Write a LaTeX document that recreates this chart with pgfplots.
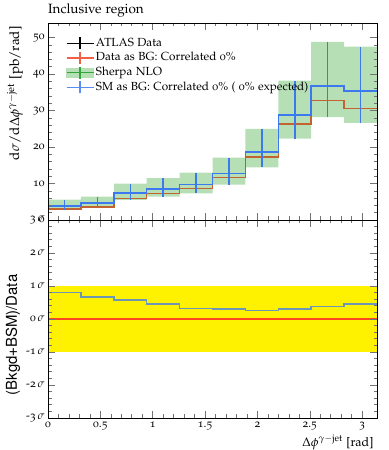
\documentclass[border=0pt]{standalone}
\usepackage[T1]{fontenc}
\usepackage[osf]{mathpazo}
\usepackage{helvet}
\usepackage{pgfplots}
\pgfplotsset{compat=1.18}
\definecolor{dred}{RGB}{240,95,70}
\definecolor{dbrown}{RGB}{195,100,48}
\definecolor{pred}{RGB}{255,70,30}
\definecolor{sblue}{RGB}{60,120,240}
\definecolor{bandgreen}{RGB}{182,223,182}
\definecolor{sgreen}{RGB}{50,165,60}
\pgfplotsset{
 rivet/.style={scale only axis, width=329bp, xmin=0, xmax=3.14159,
  axis on top, tick align=inside, tick pos=both,
  major tick length=7bp, minor tick length=3.5bp,
  tick style={black!55, line width=0.6bp},
  axis line style={line width=0.8bp},
  xtick={0,0.5,1,1.5,2,2.5,3}, minor x tick num=4,
  /pgf/number format/assume math mode=true,
  tick label style={font=\fontsize{11.5}{13}\selectfont}},
 ebar/.style={sblue, line width=1.5bp, mark=none, forget plot},
}
\begin{document}
\begin{tikzpicture}
\path[use as bounding box] (0,0) rectangle (389bp,450bp);
\node[anchor=base west, font=\fontsize{13.5}{15}\selectfont, inner sep=0pt] at (48bp,436bp) {Inclusive region};
\begin{axis}[rivet, at={(48bp,230bp)}, anchor=south west, height=197bp,
  ymin=0, ymax=54, ytick={0,10,20,30,40,50}, minor y tick num=4, xticklabels={},
  every axis y label/.style={at={(axis description cs:0,1)}, xshift=-33bp, yshift=0bp, rotate=90, anchor=east, font=\fontsize{13.5}{15}\selectfont},
  ylabel={$\mathrm{d}\sigma/\mathrm{d}\Delta\phi^{\gamma-\mathrm{jet}}$ [pb/rad]},
  legend style={at={(axis description cs:0.045,0.945)}, anchor=north west, draw=none, fill=none,
    font=\fontsize{11.8}{13}\selectfont, row sep=0bp,
    nodes={text height=8.5bp, text depth=3bp, inner sep=1.6bp}},
  legend cell align=left]
\addlegendimage{legend image code/.code={\draw[black,line width=1.4bp] (0bp,0bp)--(27bp,0bp); \draw[black,line width=1.4bp] (13.5bp,-6bp)--(13.5bp,6bp);}}
\addlegendentry{ATLAS Data}
\addlegendimage{legend image code/.code={\draw[dred,line width=1.4bp] (0bp,0bp)--(27bp,0bp); \draw[dred,line width=1.4bp] (13.5bp,-6bp)--(13.5bp,6bp);}}
\addlegendentry{Data as BG: Correlated 0\%}
\addlegendimage{legend image code/.code={\fill[bandgreen] (0bp,-4.5bp) rectangle (27bp,4.5bp); \draw[sgreen,line width=1.4bp] (0bp,0bp)--(27bp,0bp); \draw[sgreen,line width=1.4bp] (13.5bp,-6bp)--(13.5bp,6bp);}}
\addlegendentry{Sherpa NLO}
\addlegendimage{legend image code/.code={\draw[sblue!85!white,line width=1.4bp] (0bp,0bp)--(27bp,0bp); \draw[sblue!85!white,line width=1.4bp] (13.5bp,-6bp)--(13.5bp,6bp);}}
\addlegendentry{SM as BG: Correlated 0\% ( 0\% expected)}
% Sherpa band
\addplot[fill=bandgreen, draw=none, forget plot] coordinates {(0,5.6)(0.31416,5.6)(0.31416,6.4)(0.62832,6.4)(0.62832,10.0)(0.94248,10.0)(0.94248,11.5)(1.25664,11.5)(1.25664,13.0)(1.5708,13.0)(1.5708,17.1)(1.88496,17.1)(1.88496,25.0)(2.19911,25.0)(2.19911,38.2)(2.51327,38.2)(2.51327,48.8)(2.82743,48.8)(2.82743,47.5)(3.14159,47.5)
(3.14159,26.6)(2.82743,26.6)(2.82743,28.2)(2.51327,28.2)(2.51327,22.3)(2.19911,22.3)(2.19911,14.4)(1.88496,14.4)(1.88496,9.7)(1.5708,9.7)(1.5708,7.3)(1.25664,7.3)(1.25664,6.4)(0.94248,6.4)(0.94248,5.5)(0.62832,5.5)(0.62832,3.5)(0.31416,3.5)(0.31416,2.8)(0,2.8)};
% data
\addplot[black, const plot, line width=1.5bp, forget plot] coordinates {(0,3.0)(0.31416,3.6)(0.62832,5.9)(0.94248,7.3)(1.25664,8.6)(1.5708,11.6)(1.88496,17.3)(2.19911,26.3)(2.51327,32.7)(2.82743,30.5)(3.14159,30.5)};
\addplot[dbrown, const plot, line width=1.5bp, forget plot] coordinates {(0,3.0)(0.31416,3.6)(0.62832,5.9)(0.94248,7.3)(1.25664,8.6)(1.5708,11.6)(1.88496,17.3)(2.19911,26.3)(2.51327,32.7)(2.82743,30.5)(3.14159,30.5)};
% SM
\addplot[sblue, const plot, line width=1.5bp, forget plot] coordinates {(0,3.9)(0.31416,4.7)(0.62832,7.4)(0.94248,8.5)(1.25664,9.7)(1.5708,12.8)(1.88496,18.7)(2.19911,28.8)(2.51327,36.7)(2.82743,35.3)(3.14159,35.3)};
\addplot[ebar] coordinates {(0.15708,2.8)(0.15708,5.6)};
\addplot[ebar] coordinates {(0.47124,3.5)(0.47124,6.4)};
\addplot[ebar] coordinates {(0.78540,5.5)(0.78540,10.0)};
\addplot[ebar] coordinates {(1.09956,6.4)(1.09956,11.5)};
\addplot[ebar] coordinates {(1.41372,7.3)(1.41372,13.0)};
\addplot[ebar] coordinates {(1.72788,9.7)(1.72788,17.1)};
\addplot[ebar] coordinates {(2.04204,14.4)(2.04204,25.0)};
\addplot[ebar] coordinates {(2.35620,22.3)(2.35620,38.2)};
\addplot[ebar] coordinates {(2.67035,28.2)(2.67035,48.8)};
\addplot[ebar] coordinates {(2.98451,26.6)(2.98451,47.5)};
\end{axis}
\begin{axis}[rivet, at={(48bp,230bp)}, anchor=north west, height=198bp,
  ymin=-3, ymax=3, ytick={-3,-2,-1,0,1,2,3},
  yticklabels={-3$\,\sigma$,-2$\,\sigma$,-1$\,\sigma$,0$\,\sigma$,1$\,\sigma$,2$\,\sigma$,3$\,\sigma$},
  minor y tick num=4,
  every axis y label/.style={at={(axis description cs:0,0.5)}, xshift=-35bp, yshift=-16bp, rotate=90, anchor=center, font=\fontsize{15}{17}\sffamily},
  ylabel={(Bkgd+BSM)/Data},
  every axis x label/.style={at={(axis description cs:1,0)}, anchor=north east, yshift=-14bp, font=\fontsize{12.5}{14}\selectfont},
  xlabel={$\Delta\phi^{\gamma-\mathrm{jet}}$ [rad]}]
\addplot[fill=yellow, draw=none] coordinates {(0,-1)(3.14159,-1)(3.14159,1)(0,1)};
\addplot[pred, line width=1.5bp] coordinates {(0,0)(3.14159,0)};
\addplot[sblue, opacity=0.75, const plot, line width=1.5bp] coordinates {(0,0.81)(0.31416,0.67)(0.62832,0.57)(0.94248,0.45)(1.25664,0.32)(1.5708,0.31)(1.88496,0.25)(2.19911,0.31)(2.51327,0.38)(2.82743,0.45)(3.14159,0.45)};
\end{axis}
\end{tikzpicture}
\end{document}
